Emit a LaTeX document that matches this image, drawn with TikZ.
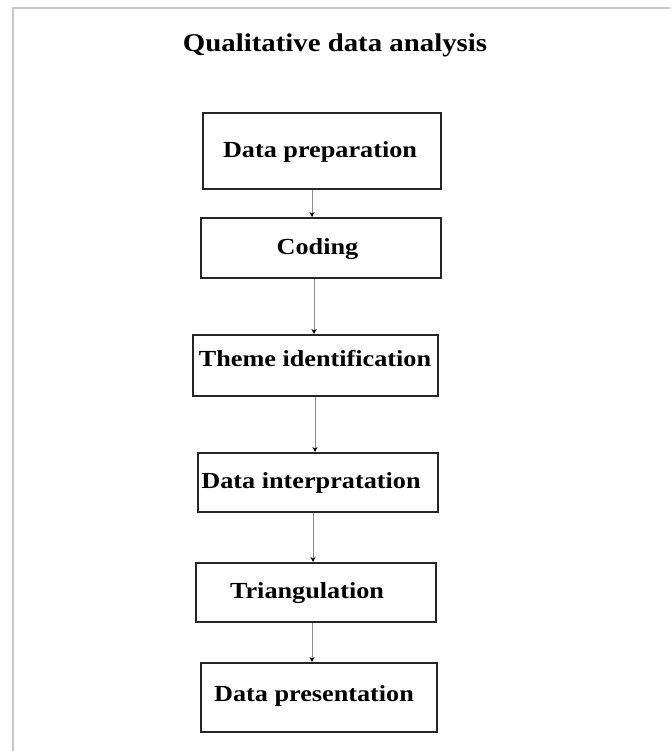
\documentclass[tikz,border=0pt]{standalone}
\usepackage{fontspec}
\usepackage{graphicx}
\setmainfont{Liberation Serif}
\usetikzlibrary{arrows.meta}
\begin{document}
\begin{tikzpicture}[x=1pt,y=-1pt,
  stepbox/.style={draw=black!85, line width=2pt, rectangle, inner sep=0pt},
  steptext/.style={anchor=base, inner sep=0pt, font=\fontsize{23}{26}\selectfont\bfseries},
  flow/.style={draw=black!45, line width=0.9pt, -{Stealth[length=5pt,width=5pt,black]}},
  frameline/.style={draw=black!22, line width=2.5pt}
]
\useasboundingbox (0,0) rectangle (670,751);
\fill[white] (0,0) rectangle (670,751);

% outer frame (top and left edges)
\coordinate (ftl) at (13,8);
\coordinate (ftr) at (670,8);
\coordinate (fbl) at (13,751);
\draw[frameline] (ftr) -- (ftl) -- (fbl);

% title
\node[anchor=base, inner sep=0pt, font=\fontsize{25.5}{28}\selectfont\bfseries] (title) at (335,52)
  {\scalebox{1.13}[1]{Qualitative data analysis}};

% boxes
\node[stepbox, minimum width=238pt, minimum height=76pt] (b1) at (322,151) {};
\node[stepbox, minimum width=240pt, minimum height=60pt] (b2) at (321,248) {};
\node[stepbox, minimum width=245pt, minimum height=61pt] (b3) at (315.5,365.5) {};
\node[stepbox, minimum width=240pt, minimum height=59pt] (b4) at (318,482.5) {};
\node[stepbox, minimum width=240pt, minimum height=59pt] (b5) at (316,592.5) {};
\node[stepbox, minimum width=236pt, minimum height=69pt] (b6) at (319,697.5) {};

% box labels
\node[steptext] (t1) at (320,158) {\scalebox{1.14}[1]{Data preparation}};
\node[steptext] (t2) at (317.5,254) {\scalebox{1.14}[1]{Coding}};
\node[steptext] (t3) at (315,366) {\scalebox{1.14}[1]{Theme identification}};
\node[steptext] (t4) at (311,488) {\scalebox{1.14}[1]{Data interpratation}};
\node[steptext] (t5) at (307,598) {\scalebox{1.14}[1]{Triangulation}};
\node[steptext] (t6) at (314,701) {\scalebox{1.14}[1]{Data presentation}};

% connector columns
\coordinate (c1) at (312,0);
\coordinate (c2) at (314,0);
\coordinate (c3) at (315,0);
\coordinate (c4) at (313,0);
\coordinate (c5) at (312,0);

% connectors
\draw[flow] (b1.south -| c1) -- (b2.north -| c1);
\draw[flow] (b2.south -| c2) -- (b3.north -| c2);
\draw[flow] (b3.south -| c3) -- (b4.north -| c3);
\draw[flow] (b4.south -| c4) -- (b5.north -| c4);
\draw[flow] (b5.south -| c5) -- (b6.north -| c5);
\end{tikzpicture}
\end{document}
